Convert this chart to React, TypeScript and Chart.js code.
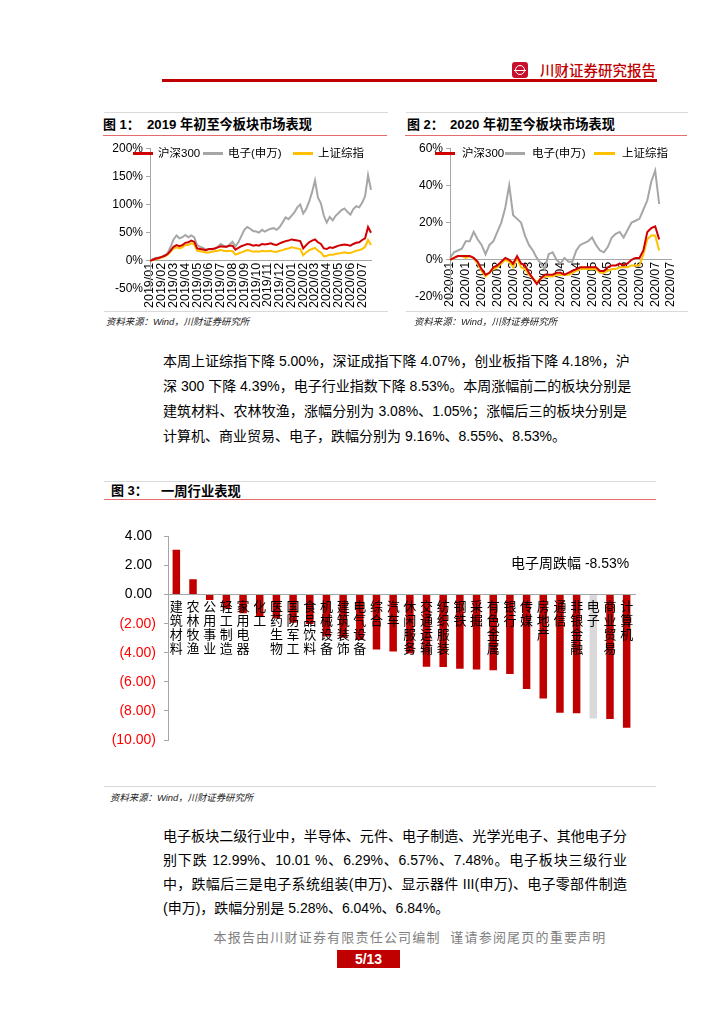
import React, { useEffect, useRef } from 'react';
import { Chart, registerables } from 'chart.js';

Chart.register(...registerables);

const FONT = '"Liberation Sans", "Noto Sans CJK SC", sans-serif';
Chart.defaults.font.family = FONT;

// ---------- Figure 1: 2019年初至今 ----------
const fig1MonthLabels = ['2019/01', '2019/02', '2019/03', '2019/04', '2019/05', '2019/06', '2019/07', '2019/08', '2019/09', '2019/10', '2019/11', '2019/12', '2020/01', '2020/02', '2020/03', '2020/04', '2020/05', '2020/06', '2020/07'];
const fig1Hs300 = [0, 2, 4, 5, 7, 9, 12, 18, 25, 28, 26, 28, 32, 33, 36, 34, 22, 21, 20, 19, 21, 21, 22, 24, 26, 25, 25, 27, 27, 20, 23, 26, 28, 30, 29, 27, 28, 27, 30, 29, 30, 31, 29, 28, 31, 33, 35, 36, 38, 37, 36, 35, 22, 28, 33, 36, 38, 33, 30, 22, 21, 24, 23, 25, 27, 28, 29, 28, 27, 30, 32, 33, 37, 40, 60, 50];
const fig1Elec = [0, 3, 5, 6, 7, 10, 14, 25, 38, 45, 40, 42, 46, 42, 45, 42, 28, 25, 23, 20, 21, 20, 22, 25, 30, 27, 25, 29, 34, 26, 33, 44, 55, 60, 57, 53, 52, 50, 55, 52, 55, 57, 58, 55, 60, 68, 77, 74, 80, 86, 95, 100, 84, 92, 105, 122, 143, 112, 102, 80, 68, 78, 72, 80, 85, 90, 93, 87, 82, 92, 97, 95, 103, 115, 152, 126];
const fig1Sse = [0, 2, 3, 4, 6, 8, 11, 16, 22, 24, 22, 24, 28, 28, 31, 29, 18, 17, 16, 15, 15, 16, 17, 18, 19, 18, 17, 18, 17, 11, 13, 15, 17, 19, 18, 16, 17, 16, 18, 17, 17, 18, 16, 16, 18, 19, 21, 22, 24, 23, 22, 21, 10, 15, 19, 21, 23, 18, 15, 8, 9, 11, 11, 12, 13, 14, 15, 14, 14, 16, 18, 19, 21, 25, 37, 28];
const fig1LabelEvery = 4;

// ---------- Figure 2: 2020年初至今 ----------
const fig2TickLabels = ['2020/01', '2020/01', '2020/01', '2020/02', '2020/03', '2020/03', '2020/03', '2020/04', '2020/04', '2020/05', '2020/05', '2020/06', '2020/06', '2020/07', '2020/07'];
const fig2Hs300 = [0, 1, 2, 2, 2, 2, 1, -1, -5, -8, -7, -4, -3, -1, 1, 0, -2, 2, -2, -3, -7, -10, -13, -10, -8, -8, -8, -7, -7, -8, -7, -6, -5, -4, -4, -4, -4, -4, -6, -6, -4, -3, -3, -2, -3, -2, 0, 1, 1, 5, 15, 17, 18, 11];
const fig2Elec = [1, 4, 5, 6, 10, 10, 15, 11, 8, 3, 8, 10, 15, 20, 28, 40, 24, 22, 20, 13, 8, 5, 1, -2, -5, 3, 4, 0, -2, 1, -1, -1, 5, 8, 9, 10, 12, 8, 5, 4, 7, 12, 14, 15, 12, 16, 20, 21, 22, 27, 32, 42, 48, 30];
const fig2Sse = [0, 1, 2, 2, 1, 2, 1, -2, -6, -9, -7, -5, -4, -2, 0, -1, -4, 1, -4, -5, -8, -10, -12, -10, -9, -9, -9, -8, -8, -8, -8, -7, -6, -5, -5, -5, -5, -5, -7, -7, -6, -5, -5, -4, -4, -4, -3, -3, -3, 3, 11, 13, 13, 5];
const fig2LabelEvery = 4;

const seriesNames = ['沪深300', '电子(申万)', '上证综指'];
const seriesColors = ['#D00000', '#A6A6A6', '#FFC000'];

// ---------- Figure 3: 一周行业表现 ----------
const industries = ['建筑材料', '农林牧渔', '公用事业', '轻工制造', '家用电器', '化工', '医药生物', '国防军工', '食品饮料', '机械设备', '建筑装饰', '电气设备', '综合', '汽车', '休闲服务', '交通运输', '纺织服装', '钢铁', '采掘', '有色金属', '银行', '传媒', '房地产', '通信', '非银金融', '电子', '商业贸易', '计算机'];
const weeklyChange = [3.08, 1.05, -0.37, -0.98, -1.28, -1.55, -1.64, -1.93, -2.02, -2.88, -2.97, -3.13, -3.78, -3.92, -4.06, -4.96, -4.98, -5.10, -5.16, -5.21, -5.46, -6.49, -7.15, -8.12, -8.16, -8.53, -8.55, -9.16];
const highlightIndustry = '电子';
const barAxisMin = -10;
const barAxisMax = 4;
const barAxisStep = 2;

function ChartBox({ left, top, width, height, makeConfig }: any) {
  const ref = useRef<HTMLCanvasElement>(null);
  useEffect(() => {
    const chart = new Chart(ref.current as HTMLCanvasElement, makeConfig());
    return () => chart.destroy();
  }, []);
  return (
    <canvas
      ref={ref}
      width={width}
      height={height}
      style={{ position: 'absolute', left, top, width, height }}
    />
  );
}

function lineConfig(p: any) {
  const n = p.slots;
  const slots = Array.from({ length: n }, (_, i) => String(i));
  return {
    type: 'line',
    data: {
      labels: slots,
      datasets: p.series.map((d: number[], k: number) => ({
        label: seriesNames[k],
        data: d,
        borderColor: seriesColors[k],
        borderWidth: 2,
        pointRadius: 0,
        tension: 0,
        fill: false,
      })),
    },
    options: {
      animation: false,
      responsive: false,
      devicePixelRatio: 1,
      layout: { padding: p.padding },
      plugins: { legend: { display: false }, tooltip: { enabled: false } },
      scales: {
        x: {
          type: 'category',
          position: { y: 0 },
          offset: false,
          grid: { display: false, drawTicks: false },
          border: { display: true, color: '#A6A6A6', width: 1 },
          ticks: {
            autoSkip: false,
            minRotation: 90,
            maxRotation: 90,
            padding: 2,
            color: '#000',
            font: { size: 12.5, family: FONT },
            callback: (_v: any, i: number) =>
              i % p.every === 0 && p.tickLabels[i / p.every] ? p.tickLabels[i / p.every] : '',
          },
        },
        y: {
          min: p.min,
          max: p.max,
          afterFit: (s: any) => {
            s.width = p.axisWidth;
          },
          grid: { display: true, drawOnChartArea: false, drawTicks: true, tickLength: 4, color: '#A6A6A6' },
          border: { display: true, color: '#A6A6A6', width: 1 },
          ticks: {
            stepSize: p.step,
            padding: 3,
            color: '#000',
            font: { size: 12, family: FONT },
            callback: (v: number) => v + '%',
          },
        },
      },
    },
  };
}

function barConfig() {
  return {
    type: 'bar',
    data: {
      labels: industries,
      datasets: [
        {
          label: '一周涨跌幅',
          data: weeklyChange,
          backgroundColor: industries.map((n) => (n === highlightIndustry ? '#D9D9D9' : '#C00000')),
          barPercentage: 0.45,
          categoryPercentage: 1,
        },
      ],
    },
    options: {
      animation: false,
      responsive: false,
      devicePixelRatio: 1,
      layout: { padding: { top: 14, right: 21, bottom: 30, left: 0 } },
      plugins: { legend: { display: false }, tooltip: { enabled: false } },
      scales: {
        x: {
          type: 'category',
          position: { y: 0 },
          offset: true,
          grid: { display: false, drawTicks: false },
          border: { display: true, color: '#A6A6A6', width: 1 },
          ticks: {
            z: 1,
            autoSkip: false,
            minRotation: 0,
            maxRotation: 0,
            padding: 4,
            color: '#000',
            font: { size: 13, family: '"Noto Sans CJK SC", sans-serif', lineHeight: 1.08 },
            callback: (_v: any, i: number) => industries[i].split(''),
          },
        },
        y: {
          min: barAxisMin,
          max: barAxisMax,
          afterFit: (s: any) => {
            s.width = 64;
          },
          grid: { display: true, drawOnChartArea: false, drawTicks: true, tickLength: 4, color: '#A6A6A6' },
          border: { display: true, color: '#A6A6A6', width: 1 },
          ticks: {
            stepSize: barAxisStep,
            padding: 8,
            font: { size: 14, family: FONT },
            color: (ctx: any) => (ctx.tick && ctx.tick.value < 0 ? '#FF0000' : '#000'),
            callback: (v: number) => (v < 0 ? '(' + (-v).toFixed(2) + ')' : v.toFixed(2) + ' '),
          },
        },
      },
    },
  };
}

function Txt({ x, y, size = 14, h, children, style }: any) {
  const lh = h || Math.round(size * 1.4);
  return (
    <div
      style={{
        position: 'absolute',
        left: x,
        top: y - lh / 2,
        fontSize: size,
        lineHeight: lh + 'px',
        fontFamily: FONT,
        whiteSpace: 'nowrap',
        color: '#000',
        ...style,
      }}
    >
      {children}
    </div>
  );
}

function HLine({ x1, x2, y, color, w = 1 }: any) {
  return <div style={{ position: 'absolute', left: x1, top: y, width: x2 - x1, height: w, background: color }} />;
}

function Legend({ y, items }: any) {
  return (
    <>
      {items.map((it: any, k: number) => (
        <React.Fragment key={k}>
          <div style={{ position: 'absolute', left: it.sx, top: y - 1, width: it.sw, height: 2.5, background: seriesColors[k] }} />
          <Txt x={it.tx} y={y} size={11.5}>
            {seriesNames[k]}
          </Txt>
        </React.Fragment>
      ))}
    </>
  );
}

function JLine({ x, y, w, text, justify = true }: any) {
  return (
    <div
      style={{
        position: 'absolute',
        left: x,
        top: y - 10,
        width: w,
        fontSize: 14,
        lineHeight: '20px',
        fontFamily: FONT,
        whiteSpace: 'nowrap',
        color: '#000',
        textAlign: justify ? 'justify' : 'left',
        textAlignLast: justify ? 'justify' : 'left',
      } as any}
    >
      {text}
    </div>
  );
}

export default function App() {
  const para1 = [
    '本周上证综指下降 5.00%，深证成指下降 4.07%，创业板指下降 4.18%，沪',
    '深 300 下降 4.39%，电子行业指数下降 8.53%。本周涨幅前二的板块分别是',
    '建筑材料、农林牧渔，涨幅分别为 3.08%、1.05%；涨幅后三的板块分别是',
    '计算机、商业贸易、电子，跌幅分别为 9.16%、8.55%、8.53%。',
  ];
  const para1Y = [361, 386, 411, 436];
  const para2 = [
    '电子板块二级行业中，半导体、元件、电子制造、光学光电子、其他电子分',
    '别下跌 12.99%、10.01 %、6.29%、6.57%、7.48%。电子板块三级行业',
    '中，跌幅后三是电子系统组装(申万)、显示器件 III(申万)、电子零部件制造',
    '(申万)，跌幅分别是 5.28%、6.04%、6.84%。',
  ];
  const para2Y = [836, 860, 884, 908];
  const titleStyle = { fontWeight: 'bold' };
  const srcStyle = { fontStyle: 'italic', color: '#222' };

  return (
    <div style={{ position: 'absolute', left: 0, top: 0, width: 724, height: 1024, background: '#fff', overflow: 'hidden' }}>
      {/* header */}
      <div style={{ position: 'absolute', left: 512, top: 62, width: 16, height: 16, background: '#C8102E', borderRadius: 3 }}>
        <div style={{ position: 'absolute', left: 3, top: 3, width: 8, height: 8, border: '1.5px solid #fff', borderRadius: '50%' }} />
        <div style={{ position: 'absolute', left: 2, top: 7.5, width: 12, height: 1.5, background: '#fff' }} />
      </div>
      <Txt x={540} y={71} size={14.5} style={{ color: '#C00000', fontWeight: 500 }}>
        川财证券研究报告
      </Txt>
      <HLine x1={162} x2={657} y={79} w={3} color="#C00000" />

      {/* figure 1 */}
      <HLine x1={104} x2={388} y={112} color="#D9D9D9" />
      <Txt x={103} y={125} size={13} style={titleStyle}>图 1：</Txt>
      <Txt x={147} y={125} size={13.2} style={titleStyle}>2019 年初至今板块市场表现</Txt>
      <HLine x1={103} x2={387} y={135} color="#E46C6C" />
      <ChartBox
        left={104}
        top={138}
        width={284}
        height={172}
        makeConfig={() =>
          lineConfig({
            slots: fig1Hs300.length,
            series: [fig1Hs300, fig1Elec, fig1Sse],
            tickLabels: fig1MonthLabels,
            every: fig1LabelEvery,
            min: -50,
            max: 200,
            step: 50,
            axisWidth: 46,
            padding: { top: 7, right: 6, bottom: 21, left: 0 },
          })
        }
      />
      <Legend
        y={153}
        items={[
          { sx: 133, sw: 20, tx: 158 },
          { sx: 203, sw: 20, tx: 228 },
          { sx: 293, sw: 20, tx: 318 },
        ]}
      />
      <HLine x1={104} x2={388} y={311} color="#D9D9D9" />
      <Txt x={106} y={321} size={9.4} style={srcStyle}>资料来源：Wind，川财证券研究所</Txt>

      {/* figure 2 */}
      <HLine x1={406} x2={688} y={112} color="#D9D9D9" />
      <Txt x={407} y={125} size={13} style={titleStyle}>图 2：</Txt>
      <Txt x={450} y={125} size={13.2} style={titleStyle}>2020 年初至今板块市场表现</Txt>
      <HLine x1={405} x2={687} y={135} color="#E46C6C" />
      <ChartBox
        left={406}
        top={138}
        width={282}
        height={174}
        makeConfig={() =>
          lineConfig({
            slots: (fig2TickLabels.length - 1) * fig2LabelEvery + 1,
            series: [fig2Hs300, fig2Elec, fig2Sse],
            tickLabels: fig2TickLabels,
            every: fig2LabelEvery,
            min: -20,
            max: 60,
            step: 20,
            axisWidth: 44,
            padding: { top: 7, right: 10, bottom: 15, left: 0 },
          })
        }
      />
      <Legend
        y={153}
        items={[
          { sx: 435, sw: 20, tx: 462 },
          { sx: 505, sw: 20, tx: 532 },
          { sx: 594, sw: 21, tx: 622 },
        ]}
      />
      <HLine x1={406} x2={688} y={311} color="#D9D9D9" />
      <Txt x={414} y={321} size={9.4} style={srcStyle}>资料来源：Wind，川财证券研究所</Txt>

      {/* paragraph 1 */}
      {para1.map((t, i) => (
        <JLine key={i} x={163} y={para1Y[i]} w={464} text={t} justify={i < para1.length - 1} />
      ))}

      {/* figure 3 */}
      <HLine x1={104} x2={656} y={481} color="#D9D9D9" />
      <Txt x={111} y={491} size={13} style={titleStyle}>图 3：</Txt>
      <Txt x={161} y={491} size={13.3} style={titleStyle}>一周行业表现</Txt>
      <HLine x1={104} x2={656} y={499} color="#E46C6C" />
      <ChartBox left={104} top={520} width={552} height={250} makeConfig={barConfig} />
      <Txt x={511} y={563} size={14}>
        电子周跌幅 -8.53%
      </Txt>
      <HLine x1={104} x2={656} y={786} color="#D9D9D9" />
      <Txt x={110} y={797} size={9.4} style={srcStyle}>资料来源：Wind，川财证券研究所</Txt>

      {/* paragraph 2 */}
      {para2.map((t, i) => (
        <JLine key={i} x={163} y={para2Y[i]} w={464} text={t} justify={i < para2.length - 1} />
      ))}

      {/* footer */}
      <div
        style={{
          position: 'absolute',
          left: 160,
          top: 929,
          width: 500,
          textAlign: 'center',
          fontSize: 13,
          lineHeight: '18px',
          letterSpacing: 1.2,
          color: '#7F7F7F',
          fontFamily: FONT,
          whiteSpace: 'nowrap',
        }}
      >
        本报告由川财证券有限责任公司编制&nbsp;&nbsp;谨请参阅尾页的重要声明
      </div>
      <div
        style={{
          position: 'absolute',
          left: 337,
          top: 950,
          width: 63,
          height: 18,
          background: '#C00000',
          color: '#fff',
          fontFamily: FONT,
          fontWeight: 'bold',
          fontSize: 14,
          lineHeight: '18px',
          textAlign: 'center',
        }}
      >
        5/13
      </div>
    </div>
  );
}
